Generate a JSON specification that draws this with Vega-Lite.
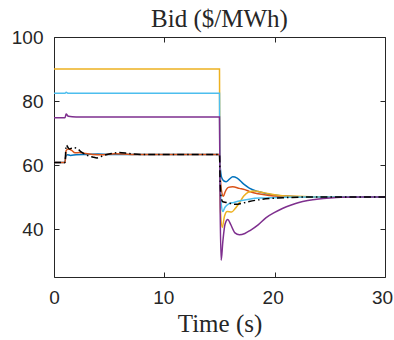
{
  "$schema": "https://vega.github.io/schema/vega-lite/v6.json",
  "width": 331,
  "height": 240,
  "autosize": {"type": "none"},
  "padding": {"left": 54, "top": 37, "right": 9, "bottom": 63},
  "config": {
    "view": {"stroke": "#262626", "strokeWidth": 1},
    "axis": {"grid": false, "domain": false, "tickColor": "#262626", "tickSize": -5, "labelFont": "Liberation Sans", "labelFontSize": 19, "labelColor": "#262626", "titleFont": "Liberation Serif", "titleFontSize": 25, "titleFontWeight": "normal", "titleColor": "#262626"}
  },
  "title": {"text": "Bid ($/MWh)", "font": "Liberation Serif", "fontSize": 25, "fontWeight": "normal", "color": "#262626", "offset": -4},
  "datasets": {
    "colored": [
      {"s": "s1", "t": 0, "v": 60.8}, {"s": "s1", "t": 1.0, "v": 60.8}, {"s": "s1", "t": 1.05, "v": 62.5}, {"s": "s1", "t": 1.2, "v": 63.2}, {"s": "s1", "t": 1.5, "v": 63.0}, {"s": "s1", "t": 2, "v": 63.2}, {"s": "s1", "t": 3, "v": 63.3}, {"s": "s1", "t": 4, "v": 63.4}, {"s": "s1", "t": 5, "v": 63.3}, {"s": "s1", "t": 15, "v": 63.3}, {"s": "s1", "t": 15.05, "v": 60}, {"s": "s1", "t": 15.2, "v": 56}, {"s": "s1", "t": 15.4, "v": 55}, {"s": "s1", "t": 15.6, "v": 54.8}, {"s": "s1", "t": 15.9, "v": 55.6}, {"s": "s1", "t": 16.2, "v": 56.3}, {"s": "s1", "t": 16.6, "v": 55.9}, {"s": "s1", "t": 17.2, "v": 54}, {"s": "s1", "t": 17.7, "v": 52.8}, {"s": "s1", "t": 18.5, "v": 51.7}, {"s": "s1", "t": 19.2, "v": 51.1}, {"s": "s1", "t": 20, "v": 50.6}, {"s": "s1", "t": 21, "v": 50.3}, {"s": "s1", "t": 22, "v": 50.1}, {"s": "s1", "t": 24, "v": 50}, {"s": "s1", "t": 30, "v": 50},
      {"s": "s2", "t": 0, "v": 60.8}, {"s": "s2", "t": 1.0, "v": 60.8}, {"s": "s2", "t": 1.1, "v": 64.5}, {"s": "s2", "t": 1.3, "v": 65.0}, {"s": "s2", "t": 1.6, "v": 64.6}, {"s": "s2", "t": 1.9, "v": 63.8}, {"s": "s2", "t": 2.3, "v": 63.9}, {"s": "s2", "t": 2.8, "v": 63.6}, {"s": "s2", "t": 3.5, "v": 63.3}, {"s": "s2", "t": 4.5, "v": 63.2}, {"s": "s2", "t": 5.5, "v": 63.5}, {"s": "s2", "t": 7, "v": 63.3}, {"s": "s2", "t": 15, "v": 63.3}, {"s": "s2", "t": 15.05, "v": 58}, {"s": "s2", "t": 15.2, "v": 51.5}, {"s": "s2", "t": 15.35, "v": 50.2}, {"s": "s2", "t": 15.5, "v": 51.5}, {"s": "s2", "t": 15.8, "v": 53.0}, {"s": "s2", "t": 16.2, "v": 53.2}, {"s": "s2", "t": 16.8, "v": 52.7}, {"s": "s2", "t": 17.3, "v": 52.3}, {"s": "s2", "t": 17.8, "v": 51.6}, {"s": "s2", "t": 18.5, "v": 51.0}, {"s": "s2", "t": 19.5, "v": 50.5}, {"s": "s2", "t": 21, "v": 50.2}, {"s": "s2", "t": 23, "v": 50}, {"s": "s2", "t": 30, "v": 50},
      {"s": "s3", "t": 0, "v": 90}, {"s": "s3", "t": 15, "v": 90}, {"s": "s3", "t": 15.03, "v": 60}, {"s": "s3", "t": 15.1, "v": 45}, {"s": "s3", "t": 15.25, "v": 40.5}, {"s": "s3", "t": 15.45, "v": 44}, {"s": "s3", "t": 15.7, "v": 45.5}, {"s": "s3", "t": 16.1, "v": 45.3}, {"s": "s3", "t": 16.4, "v": 46.3}, {"s": "s3", "t": 16.8, "v": 48.2}, {"s": "s3", "t": 17.2, "v": 50.3}, {"s": "s3", "t": 17.6, "v": 51.5}, {"s": "s3", "t": 18.2, "v": 51.9}, {"s": "s3", "t": 18.8, "v": 51.5}, {"s": "s3", "t": 19.5, "v": 51}, {"s": "s3", "t": 20.5, "v": 50.5}, {"s": "s3", "t": 22, "v": 50.2}, {"s": "s3", "t": 24, "v": 50}, {"s": "s3", "t": 30, "v": 50},
      {"s": "s4", "t": 0, "v": 82.4}, {"s": "s4", "t": 1.0, "v": 82.4}, {"s": "s4", "t": 1.1, "v": 82.7}, {"s": "s4", "t": 1.3, "v": 82.4}, {"s": "s4", "t": 15, "v": 82.4}, {"s": "s4", "t": 15.03, "v": 60}, {"s": "s4", "t": 15.15, "v": 48}, {"s": "s4", "t": 15.3, "v": 45.5}, {"s": "s4", "t": 15.5, "v": 46.8}, {"s": "s4", "t": 15.8, "v": 47.8}, {"s": "s4", "t": 16.3, "v": 48.3}, {"s": "s4", "t": 17, "v": 48.9}, {"s": "s4", "t": 17.8, "v": 49.4}, {"s": "s4", "t": 19, "v": 49.7}, {"s": "s4", "t": 21, "v": 49.9}, {"s": "s4", "t": 23, "v": 50}, {"s": "s4", "t": 30, "v": 50},
      {"s": "s5", "t": 0, "v": 74.8}, {"s": "s5", "t": 1.0, "v": 74.8}, {"s": "s5", "t": 1.1, "v": 75.9}, {"s": "s5", "t": 1.3, "v": 75.2}, {"s": "s5", "t": 2, "v": 75}, {"s": "s5", "t": 15, "v": 75}, {"s": "s5", "t": 15.05, "v": 50}, {"s": "s5", "t": 15.15, "v": 30.2}, {"s": "s5", "t": 15.3, "v": 36}, {"s": "s5", "t": 15.5, "v": 41.5}, {"s": "s5", "t": 15.75, "v": 43}, {"s": "s5", "t": 16.0, "v": 41.5}, {"s": "s5", "t": 16.4, "v": 38.8}, {"s": "s5", "t": 16.8, "v": 38.2}, {"s": "s5", "t": 17.3, "v": 38.6}, {"s": "s5", "t": 17.8, "v": 39.6}, {"s": "s5", "t": 18.5, "v": 41.3}, {"s": "s5", "t": 19.2, "v": 43.5}, {"s": "s5", "t": 20, "v": 45.2}, {"s": "s5", "t": 20.7, "v": 46.4}, {"s": "s5", "t": 21.5, "v": 47.5}, {"s": "s5", "t": 22.2, "v": 48.3}, {"s": "s5", "t": 23, "v": 48.9}, {"s": "s5", "t": 24, "v": 49.4}, {"s": "s5", "t": 25, "v": 49.7}, {"s": "s5", "t": 26, "v": 49.9}, {"s": "s5", "t": 28, "v": 50}, {"s": "s5", "t": 30, "v": 50}
    ],
    "black": [
      {"t": 0, "v": 60.8}, {"t": 1.0, "v": 60.8}, {"t": 1.1, "v": 66.2}, {"t": 1.4, "v": 65.0}, {"t": 1.7, "v": 65.4}, {"t": 2.0, "v": 65.3}, {"t": 2.5, "v": 64}, {"t": 3.0, "v": 63}, {"t": 3.5, "v": 62.5}, {"t": 3.9, "v": 62.2}, {"t": 4.5, "v": 63}, {"t": 5.2, "v": 63.6}, {"t": 5.9, "v": 63.9}, {"t": 6.8, "v": 63.6}, {"t": 8, "v": 63.3}, {"t": 15, "v": 63.3}, {"t": 15.05, "v": 56}, {"t": 15.15, "v": 50}, {"t": 15.3, "v": 48.5}, {"t": 15.6, "v": 48.3}, {"t": 16, "v": 48.0}, {"t": 16.5, "v": 47.7}, {"t": 17, "v": 48.0}, {"t": 17.7, "v": 48.6}, {"t": 18.5, "v": 49.1}, {"t": 19.5, "v": 49.5}, {"t": 21, "v": 49.8}, {"t": 23, "v": 50}, {"t": 30, "v": 50}
    ]
  },
  "resolve": {"axis": {"x": "independent", "y": "independent"}},
  "layer": [
    {
      "data": {"name": "colored"},
      "mark": {"type": "line", "strokeWidth": 1.5, "interpolate": "monotone", "clip": true},
      "encoding": {
        "x": {"field": "t", "type": "quantitative", "scale": {"domain": [0, 30], "nice": false}, "axis": {"orient": "bottom", "values": [0, 10, 20, 30], "title": "Time (s)", "labelPadding": 16, "titlePadding": 4, "labelFlush": false, "labelOffset": {"condition": [{"test": "datum.value == 30", "value": -3}, {"test": "datum.value == 20", "value": -2}, {"test": "datum.value == 10", "value": -1}], "value": 0}}},
        "y": {"field": "v", "type": "quantitative", "scale": {"domain": [25, 100], "nice": false, "zero": false}, "axis": {"orient": "left", "values": [40, 60, 80, 100], "title": null, "labelPadding": 16}},
        "color": {"field": "s", "type": "nominal", "legend": null, "scale": {"domain": ["s1", "s2", "s3", "s4", "s5"], "range": ["#0072BD", "#D95319", "#EDB120", "#4DBEEE", "#7E2F8E"]}}
      }
    },
    {
      "data": {"name": "black"},
      "mark": {"type": "line", "strokeWidth": 1.5, "color": "black", "strokeDash": [7, 3, 1.5, 3], "interpolate": "monotone", "clip": true},
      "encoding": {
        "x": {"field": "t", "type": "quantitative", "axis": {"orient": "top", "values": [0, 10, 20, 30], "labels": false, "title": null}},
        "y": {"field": "v", "type": "quantitative", "axis": {"orient": "right", "values": [40, 60, 80, 100], "labels": false, "title": null}}
      }
    }
  ]
}
